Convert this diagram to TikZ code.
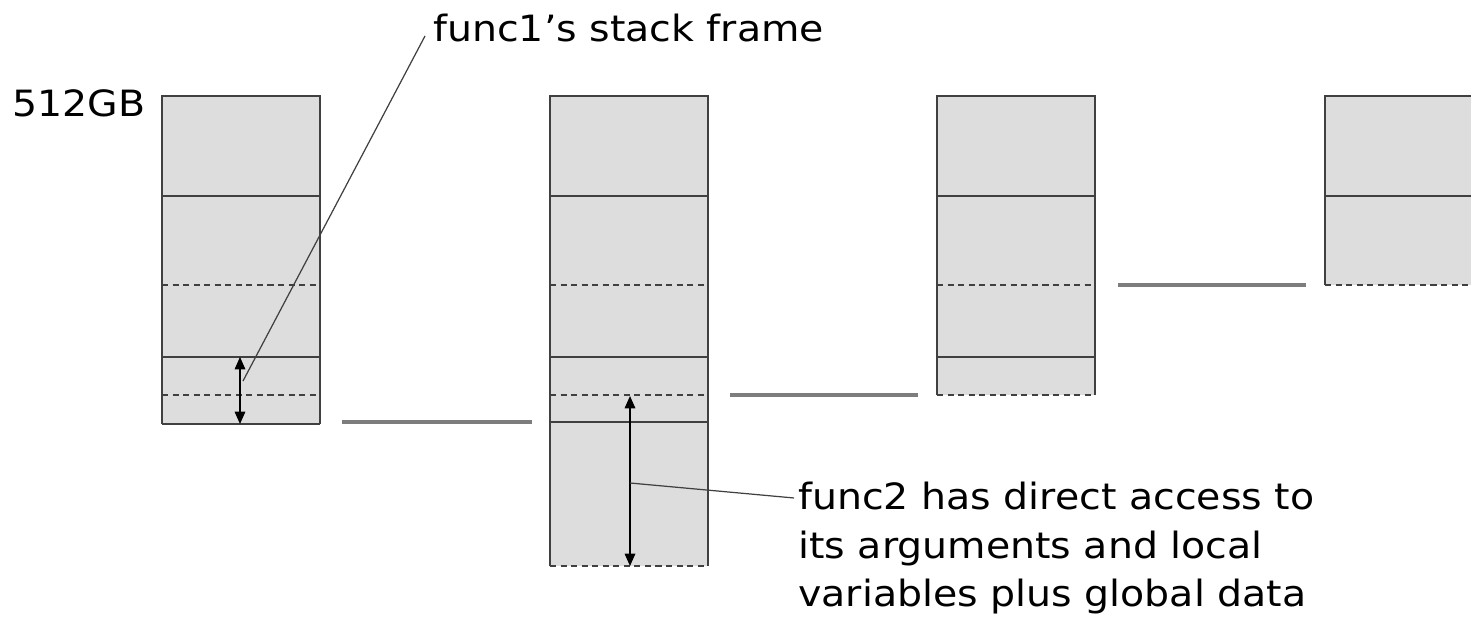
\documentclass[tikz,border=0pt]{standalone}
\usepackage{fontspec}
\setmainfont{DejaVu Sans}[FakeStretch=1.09]
\usetikzlibrary{arrows.meta, positioning}
\definecolor{framefill}{RGB}{221,221,221}
\definecolor{frameline}{RGB}{64,64,64}
\definecolor{linkgray}{RGB}{125,125,125}

\begin{document}
\begin{tikzpicture}[x=0.02cm, y=-0.02cm,
    solidsep/.style={draw=frameline, line width=1.3pt},
    dashsep/.style={draw=frameline, line width=0.9pt, dash pattern=on 3.5pt off 2.5pt},
    link/.style={draw=linkgray, line width=2pt},
    span/.style={{Triangle[length=7pt,width=6pt]}-{Triangle[length=7pt,width=6pt]},
                 line width=0.8pt, draw=black},
    leader/.style={line width=0.7pt, draw=frameline},
    note/.style={font=\fontsize{20.6}{27.6}\selectfont, inner sep=0pt, align=left}
  ]
  \useasboundingbox (0,0) rectangle (1471,617);
  \begin{scope}
    \clip (0,0) rectangle (1471,617);
    % grey bodies of the four stacks
    \fill[framefill] (162,96) rectangle (320,424);
    \fill[framefill] (550,96) rectangle (708,566);
    \fill[framefill] (937,96) rectangle (1095,395);
    \fill[framefill] (1325,96) rectangle (1490,285);
    % outlines
    \draw[solidsep] (162,424) -- (162,96) -- (320,96) -- (320,424);
    \draw[solidsep] (550,566) -- (550,96) -- (708,96) -- (708,566);
    \draw[solidsep] (937,395) -- (937,96) -- (1095,96) -- (1095,395);
    \draw[solidsep] (1325,285) -- (1325,96) -- (1490,96);
    % separators shared by every stack
    \foreach \x in {162,550,937,1325} {
      \draw[solidsep] (\x,196) -- ++(158,0);
      \draw[dashsep] (\x,285) -- ++(158,0);
    }
    \foreach \x in {162,550,937} {
      \draw[solidsep] (\x,357) -- ++(158,0);
      \draw[dashsep] (\x,395) -- ++(158,0);
    }
    \draw[solidsep] (162,424) -- ++(158,0);
    \draw[solidsep] (550,422) -- ++(158,0);
    \draw[dashsep] (550,566) -- ++(158,0);
  \end{scope}

  % links between successive stacks
  \draw[link] (342,422) -- (532,422);
  \draw[link] (730,395) -- (918,395);
  \draw[link] (1118,285) -- (1306,285);

  % labels
  \node[note, anchor=base east] (size) at (146,117) {512GB};
  \node[note, anchor=base west] (f1note) at (433,42) {func1’s stack frame};
  \node[note, anchor=north west] (f2note) at (798,482)
       {func2 has direct access to\\its arguments and local\\variables plus global data};

  % frame extents
  \coordinate (f1top) at (240,357);
  \coordinate (f1bot) at (240,424);
  \coordinate (f2top) at (630,396);
  \coordinate (f2bot) at (630,566);
  \draw[span] (f1top) -- (f1bot);
  \draw[span] (f2top) -- (f2bot);

  % leaders
  \coordinate (f1tip) at (243,381);
  \coordinate (f1end) at (425,36);
  \coordinate (f2tip) at (630,483);
  \coordinate (f2end) at (794,498);
  \draw[leader] (f1end) -- (f1tip);
  \draw[leader] (f2tip) -- (f2end);
\end{tikzpicture}
\end{document}
